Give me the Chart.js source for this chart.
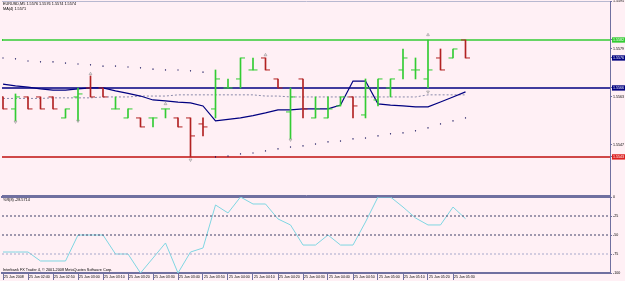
<!DOCTYPE html>
<html>
<head>
<meta charset="utf-8">
<script src="https://cdn.jsdelivr.net/npm/chart.js@4.4.1/dist/chart.umd.min.js"></script>
<style>
  html, body { margin:0; padding:0; background:#fff0f5; }
  #wrap { position:relative; width:625px; height:281px; overflow:hidden; background:#fff0f5; }
  canvas { position:absolute; left:0; }
  #priceChart { top:0; }
  #wprChart { top:195px; }
  .lbl { position:absolute; left:3px; font-family:'Liberation Sans', Arial, sans-serif; font-size:3.8px; line-height:4px; color:#000; white-space:nowrap; }
</style>
</head>
<body>
<div id="wrap">
  <canvas id="priceChart" width="625" height="196"></canvas>
  <canvas id="wprChart" width="625" height="86"></canvas>
  <div class="lbl" style="top:2px">EURUSD,M5 1.5576 1.5576 1.5574 1.5574</div>
  <div class="lbl" style="top:7px">MA(4) 1.5571</div>
  <div class="lbl" style="top:198px">%R(8) -28.5714</div>
  <div class="lbl" style="top:268px">Interbank FX Trader 4, © 2001-2008 MetaQuotes Software Corp.</div>
</div>
<script>
// EURUSD M5 bars
const opens  = [1.5563,1.5559,1.5563,1.5563,1.5563,1.5556,1.5563,1.5566,1.5566,1.5559,1.5556,1.5556,1.5556,1.5559,1.5556,1.5556,1.5554,1.5559,1.5566,1.5569,1.5572,1.5576,1.5569,1.5558,1.5569,1.5556,1.5556,1.5560,1.5563,1.5557,1.5562,1.5566,1.5572,1.5572,1.5569,1.5576,1.5576,1.5582];
const highs  = [1.5563,1.5564,1.5563,1.5563,1.5563,1.5559,1.5566,1.5570,1.5566,1.5563,1.5559,1.5556,1.5556,1.5559,1.5556,1.5556,1.5556,1.5572,1.5569,1.5576,1.5576,1.5576,1.5569,1.5566,1.5569,1.5563,1.5563,1.5563,1.5563,1.5569,1.5569,1.5569,1.5579,1.5576,1.5582,1.5579,1.5579,1.5582];
const lows   = [1.5559,1.5555,1.5559,1.5559,1.5559,1.5556,1.5555,1.5563,1.5563,1.5559,1.5556,1.5553,1.5553,1.5556,1.5553,1.5543,1.5550,1.5556,1.5566,1.5566,1.5572,1.5572,1.5566,1.5549,1.5556,1.5556,1.5556,1.5560,1.5556,1.5556,1.5560,1.5563,1.5569,1.5569,1.5566,1.5572,1.5576,1.5576];
const closes = [1.5559,1.5563,1.5559,1.5559,1.5559,1.5559,1.5564,1.5563,1.5563,1.5559,1.5559,1.5553,1.5556,1.5559,1.5553,1.5550,1.5553,1.5569,1.5566,1.5576,1.5572,1.5572,1.5566,1.5563,1.5559,1.5559,1.5559,1.5563,1.5560,1.5566,1.5569,1.5569,1.5576,1.5572,1.5572,1.5572,1.5579,1.5576];

// indicators
const maFast = [1.55673,1.55667,1.55663,1.55657,1.55653,1.55653,1.55657,1.5566,1.5566,1.5565,1.55642,1.55633,1.5562,1.55617,1.55613,1.5561,1.556,1.5555,1.55555,1.5556,1.55568,1.55577,1.55587,1.55587,1.5559,1.5559,1.5559,1.55603,1.55683,1.55683,1.55607,1.55603,1.556,1.55597,1.55597,1.55613,1.5563,1.55647];
const maSlow = [1.55625,1.55625,1.55625,1.55625,1.55627,1.55627,1.55627,1.55627,1.5563,1.5563,1.5563,1.55633,1.55633,1.55633,1.55637,1.55637,1.55637,1.55637,1.55637,1.55637,1.55637,1.55633,1.55633,1.5563,1.5563,1.5563,1.5563,1.5563,1.5563,1.5563,1.5563,1.5563,1.5563,1.5563,1.55637,1.55637,1.55637,1.55637];
const sar    = [1.5576,1.55757,1.5575,1.55747,1.55747,1.55743,1.5574,1.55737,1.55733,1.55733,1.5573,1.55727,1.55723,1.5572,1.5572,1.55717,1.55713,1.5543,1.55433,1.5544,1.55443,1.5545,1.55457,1.55463,1.55467,1.55473,1.5548,1.55483,1.5549,1.55493,1.555,1.55507,1.5551,1.55517,1.55527,1.5554,1.5555,1.5556];
const wpr    = [-72.4,-72.4,-72.4,-84.2,-84.2,-84.2,-50,-50,-50,-75,-75,-100,-80.3,-60.5,-100,-72.4,-67.1,-10.5,-21,0,-9.2,-9.2,-28.9,-36.8,-63.2,-63.2,-50,-63.2,-63.2,-32.9,0,0,-13.2,-27.6,-36.8,-36.8,-13.2,-28.57];

const fractalUpBars = [7, 13, 21, 34];
const fractalUpVals = [1.55707, 1.55607, 1.5577, 1.55837];
const fractalDnBars = [1, 6, 15, 23, 34];
const fractalDnVals = [1.55547, 1.5555, 1.5542, 1.55487, 1.55647];

const levelPrices = [1.5582, 1.5566, 1.5543];
const levelColors = ['#33cc33', '#000080', '#d04848'];
const levelWidths = [1.5, 1.5, 2];

const priceTicks = [1.5595, 1.5582, 1.5579, 1.5576, 1.5566, 1.5563, 1.5547, 1.5543];
const tagColors = {'1.5582':'#33cc33', '1.5576':'#000080', '1.5566':'#000080', '1.5543':'#dd2020'};

const wprTicks  = [0, -25, -50, -75, -100];
const wprLevels = [-25, -50, -75];
const wprLevelColors = ['#404068', '#404068', '#a8a8cc'];

const timeLabels = ['25 Jun 2008','25 Jun 02:40','25 Jun 02:50','25 Jun 03:00','25 Jun 03:10','25 Jun 03:20','25 Jun 03:30','25 Jun 03:40','25 Jun 03:50','25 Jun 04:00','25 Jun 04:10','25 Jun 04:20','25 Jun 04:30','25 Jun 04:40','25 Jun 04:50','25 Jun 05:00','25 Jun 05:10','25 Jun 05:20','25 Jun 05:30'];

const priceMax = 1.5595, priceMin = 1.55303;
const xMin = -0.08, xMax = 48.56;

Chart.defaults.font.family = "'Liberation Sans', Arial, sans-serif";
Chart.defaults.animation = false;

const idx = opens.map((_, i) => i);
const upColor = '#33cc33', downColor = '#b22222';
const barColor = idx.map(i => closes[i] >= opens[i] ? upColor : downColor);
const axisColor = '#7070a0';

const noPad = s => { s.paddingTop = 0; s.paddingBottom = 0; s.paddingLeft = 0; s.paddingRight = 0; };

// ---- price panel
const priceSets = [];
levelPrices.forEach((p, k) => {
  priceSets.push({
    type: 'line', order: 20,
    data: [{x: xMin, y: p}, {x: xMax, y: p}],
    borderColor: levelColors[k], borderWidth: levelWidths[k],
    pointStyle: 'rect', pointRadius: k === 0 ? [1.5, 0] : 0,
    pointBackgroundColor: levelColors[k], pointBorderWidth: 0
  });
});
priceSets.push({
  type: 'line', order: 15,
  data: idx.map(i => ({x: i, y: maSlow[i]})),
  borderColor: '#8a8aaa', borderWidth: 1, borderDash: [2, 2], pointRadius: 0, tension: 0
});
priceSets.push({
  type: 'line', order: 14,
  data: idx.map(i => ({x: i, y: maFast[i]})),
  borderColor: '#000080', borderWidth: 1.2, pointRadius: 0, tension: 0
});
priceSets.push({
  type: 'scatter', order: 13,
  data: idx.map(i => ({x: i, y: sar[i]})),
  pointStyle: 'rect', pointRadius: 0.8, pointBackgroundColor: '#000050', pointBorderWidth: 0
});
priceSets.push({
  type: 'bar', order: 10,
  data: idx.map(i => ({x: i, y: [lows[i], highs[i]]})),
  backgroundColor: barColor, borderWidth: 0, barThickness: 1, grouped: false
});
priceSets.push({
  type: 'scatter', order: 9,
  data: idx.map(i => ({x: i - 0.18, y: opens[i]})),
  pointStyle: 'line', pointRadius: 2.25, pointBorderWidth: 1, pointBorderColor: barColor
});
priceSets.push({
  type: 'scatter', order: 9,
  data: idx.map(i => ({x: i + 0.18, y: closes[i]})),
  pointStyle: 'line', pointRadius: 2.25, pointBorderWidth: 1, pointBorderColor: barColor
});
priceSets.push({
  type: 'scatter', order: 5,
  data: fractalUpBars.map((b, k) => ({x: b, y: fractalUpVals[k]})),
  pointStyle: 'triangle', pointRadius: 1.6, pointBorderWidth: 0.7,
  pointBorderColor: '#999999', pointBackgroundColor: 'rgba(0,0,0,0)'
});
priceSets.push({
  type: 'scatter', order: 5,
  data: fractalDnBars.map((b, k) => ({x: b, y: fractalDnVals[k]})),
  pointStyle: 'triangle', pointRotation: 180, pointRadius: 1.6, pointBorderWidth: 0.7,
  pointBorderColor: '#999999', pointBackgroundColor: 'rgba(0,0,0,0)'
});

new Chart(document.getElementById('priceChart'), {
  type: 'line',
  data: { datasets: priceSets },
  options: {
    responsive: false,
    events: [],
    layout: { autoPadding: false, padding: { left: 2, top: 1, right: 0, bottom: 0 } },
    plugins: { legend: { display: false }, tooltip: { enabled: false } },
    scales: {
      x: {
        type: 'linear', position: 'bottom', min: xMin, max: xMax, offset: false,
        ticks: { display: false }, grid: { display: false, drawTicks: false },
        border: { display: true, color: axisColor, width: 1 },
        afterFit: s => { s.height = 1; noPad(s); }
      },
      xTop: {
        type: 'linear', position: 'top', min: xMin, max: xMax, offset: false,
        ticks: { display: false }, grid: { display: false, drawTicks: false },
        border: { display: true, color: '#b8b8d0', width: 1 },
        afterFit: s => { s.height = 0; noPad(s); }
      },
      y: {
        type: 'linear', position: 'right', min: priceMin, max: priceMax,
        afterBuildTicks: s => { s.ticks = priceTicks.map(v => ({value: v})); },
        afterFit: s => { s.width = 15; noPad(s); },
        ticks: {
          autoSkip: false, padding: 1, font: { size: 3.6 },
          callback: v => v.toFixed(4),
          color: c => tagColors[c.tick.value.toFixed(4)] ? '#ffffff' : '#000000',
          showLabelBackdrop: true,
          backdropColor: c => tagColors[c.tick.value.toFixed(4)] || 'rgba(0,0,0,0)',
          backdropPadding: { top: 0.5, bottom: 0.5, left: 1, right: 1 }
        },
        grid: { drawOnChartArea: false, tickLength: 2, color: axisColor },
        border: { color: axisColor, width: 1 }
      }
    }
  }
});

// ---- Williams %R panel
const wprSets = wprLevels.map((v, k) => ({
  type: 'line',
  data: [{x: xMin, y: v}, {x: xMax, y: v}],
  borderColor: wprLevelColors[k], borderWidth: 1, borderDash: [2, 2], pointRadius: 0
}));
wprSets.push({
  type: 'line',
  data: idx.map(i => ({x: i, y: wpr[i]})),
  borderColor: '#7fd6e2', borderWidth: 1, pointRadius: 0, tension: 0
});

new Chart(document.getElementById('wprChart'), {
  type: 'line',
  data: { datasets: wprSets },
  options: {
    responsive: false,
    events: [],
    layout: { autoPadding: false, padding: { left: 2, top: 2, right: 0, bottom: 0 } },
    plugins: { legend: { display: false }, tooltip: { enabled: false } },
    scales: {
      x: {
        type: 'linear', position: 'bottom', min: xMin, max: xMax, offset: false,
        afterBuildTicks: s => { s.ticks = timeLabels.map((t, k) => ({value: k * 2})); },
        afterFit: s => { s.height = 8; noPad(s); },
        ticks: {
          autoSkip: false, maxRotation: 0, minRotation: 0, align: 'start', padding: -5,
          font: { size: 3.6 }, color: '#000',
          callback: (v, k) => ' ' + timeLabels[k]
        },
        grid: { drawOnChartArea: false, drawTicks: true, tickLength: 7, color: axisColor },
        border: { color: axisColor, width: 2 }
      },
      xTop: {
        type: 'linear', position: 'top', min: xMin, max: xMax, offset: false,
        ticks: { display: false }, grid: { display: false, drawTicks: false },
        border: { display: true, color: axisColor, width: 2 },
        afterFit: s => { s.height = 0; noPad(s); }
      },
      y: {
        type: 'linear', position: 'right', min: -100, max: 0,
        afterBuildTicks: s => { s.ticks = wprTicks.map(v => ({value: v})); },
        afterFit: s => { s.width = 15; noPad(s); },
        ticks: { autoSkip: false, padding: 1, font: { size: 3.6 }, color: '#000', callback: v => String(v) },
        grid: { drawOnChartArea: false, tickLength: 2, color: axisColor },
        border: { color: axisColor, width: 1 }
      }
    }
  }
});
</script>
</body>
</html>
